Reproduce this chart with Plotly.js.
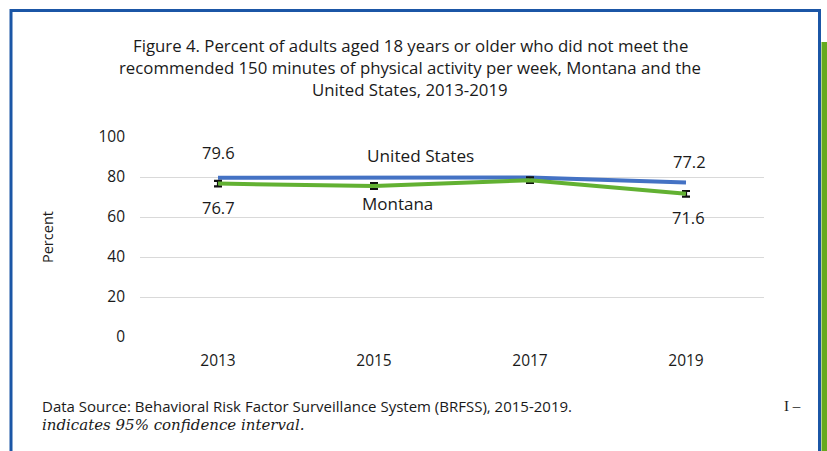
<!DOCTYPE html>
<html>
<head>
<meta charset="utf-8">
<script src="https://cdn.plot.ly/plotly-3.0.1.min.js"></script>
<style>
html,body{margin:0;padding:0;background:#fff;}
#chart{width:827px;height:451px;}
</style>
</head>
<body>
<div id="chart"></div>
<script>
const years = ["2013", "2015", "2017", "2019"];
const usValues = [79.6, 79.6, 79.7, 77.2];
const mtValues = [76.7, 75.5, 78.4, 71.6];
const mtCI = [1.4, 1.4, 1.4, 1.4];
const yTicks = [0, 20, 40, 60, 80, 100];

const titleLines = [
  "Figure 4. Percent of adults aged 18 years or older who did not meet the",
  "recommended 150 minutes of physical activity per week, Montana and the",
  "United States, 2013-2019"
];

const FONT = "Open Sans, Lato, sans-serif";
const TICKFONT = "Open Sans, Lato, sans-serif";

// plot area: x 140..764, y 137..337
const L = 140, W = 624, T = 137, H = 200;
const px = x => (x - L) / W;
const py = y => (T + H - y) / H;

const traces = [
  {
    x: years, y: usValues, type: "scatter", mode: "lines",
    line: {color: "#4472C4", width: 4}, name: "United States", hoverinfo: "x+y"
  },
  {
    x: years, y: mtValues, type: "scatter", mode: "lines",
    line: {color: "#62B132", width: 4}, name: "Montana",
    error_y: {type: "data", array: mtCI, visible: true, color: "#111", thickness: 2.2, width: 4}
  }
];

const txt = (size) => ({family: FONT, size: size, color: "#1a1a1a"});
const annotations = [];
titleLines.forEach((t, i) => {
  annotations.push({
    text: t, xref: "paper", yref: "paper", x: px(410), y: py(45 + i * 22.5),
    xanchor: "center", yanchor: "middle", showarrow: false, font: txt(16.8)
  });
});
// value labels (x by category index)
const vlab = (arr, i, shiftY, shiftX) => ({
  text: String(arr[i]), x: i, y: arr[i], xref: "x", yref: "y",
  xanchor: "center", yanchor: "middle", yshift: shiftY, xshift: shiftX,
  showarrow: false, font: txt(16.5)
});
annotations.push(vlab(usValues, 0, 25, 0));
annotations.push(vlab(usValues, 3, 21, 3));
annotations.push(vlab(mtValues, 0, -24, 0));
annotations.push(vlab(mtValues, 3, -24, 2));
// series labels
annotations.push({text: "United States", xref: "paper", yref: "paper", x: px(420), y: py(155), xanchor: "center", yanchor: "middle", showarrow: false, font: txt(17.2)});
annotations.push({text: "Montana", xref: "paper", yref: "paper", x: px(397), y: py(203), xanchor: "center", yanchor: "middle", showarrow: false, font: txt(17)});
// y title
annotations.push({text: "Percent", xref: "paper", yref: "paper", x: px(47), y: py(237), xanchor: "center", yanchor: "middle", textangle: -90, showarrow: false, font: txt(14.5)});
// footer
annotations.push({text: "Data Source: Behavioral Risk Factor Surveillance System (BRFSS), 2015-2019.", xref: "paper", yref: "paper", x: px(40), y: py(406), xanchor: "left", yanchor: "middle", showarrow: false, font: txt(15)});
annotations.push({text: "<i>indicates 95% confidence interval.</i>", xref: "paper", yref: "paper", x: px(40), y: py(425), xanchor: "left", yanchor: "middle", showarrow: false, font: {family: "DejaVu Serif, Liberation Serif, serif", size: 15, color: "#1a1a1a"}});
annotations.push({text: "I –", xref: "paper", yref: "paper", x: px(782), y: py(406), xanchor: "left", yanchor: "middle", showarrow: false, font: {family: "Liberation Serif, serif", size: 15, color: "#1a1a1a"}});

const shapes = [
  {type: "rect", xref: "paper", yref: "paper", x0: px(11), x1: px(819.5), y0: py(10.5), y1: py(470),
   line: {color: "#1B56A6", width: 3}, fillcolor: "rgba(0,0,0,0)", layer: "below"},
  {type: "rect", xref: "paper", yref: "paper", x0: px(821.5), x1: px(832), y0: py(42), y1: py(470),
   line: {width: 0}, fillcolor: "#66AA1E", layer: "below"}
];

const layout = {
  width: 827, height: 451,
  margin: {l: L, r: 827 - L - W, t: T, b: 451 - T - H, pad: 0},
  paper_bgcolor: "#fff", plot_bgcolor: "#fff",
  showlegend: false,
  xaxis: {
    type: "category", range: [-0.5, 3.5], showgrid: false, zeroline: false, showline: false,
    ticks: "", tickfont: {family: TICKFONT, size: 15.5, color: "#1a1a1a"}, ticklabelstandoff: 12, fixedrange: true
  },
  yaxis: {
    range: [0, 100], tickvals: yTicks, showgrid: true, gridcolor: "#D9D9D9", gridwidth: 1,
    zeroline: false, showline: false, ticks: "",
    tickfont: {family: TICKFONT, size: 15.5, color: "#1a1a1a"}, ticklabelstandoff: 14, fixedrange: true
  },
  annotations: annotations,
  shapes: shapes
};

Plotly.newPlot("chart", traces, layout, {displayModeBar: false, staticPlot: true});
</script>
</body>
</html>
